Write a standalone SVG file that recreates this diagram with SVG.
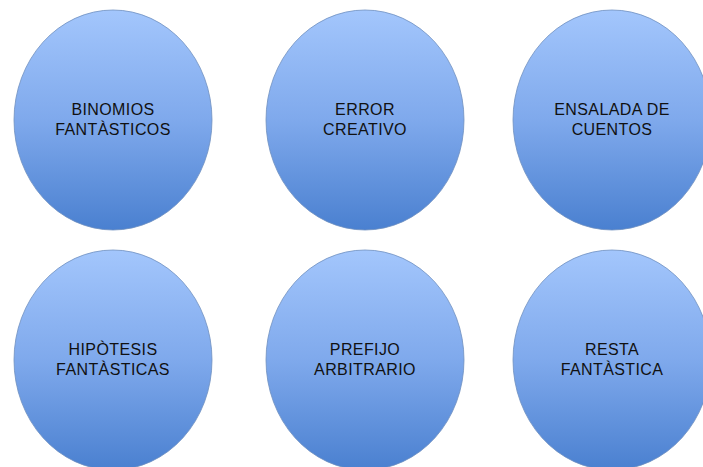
<svg xmlns="http://www.w3.org/2000/svg" width="703" height="467" viewBox="0 0 703 467">
<defs>
<linearGradient id="g" x1="0" y1="0" x2="0" y2="1">
<stop offset="0" stop-color="#a3c6fc"/>
<stop offset="0.5" stop-color="#7fa9ec"/>
<stop offset="1" stop-color="#4a80d0"/>
</linearGradient>
</defs>
<style>
.n ellipse{fill:url(#g);stroke:#6f8fbf;stroke-width:0.8}
.n text{font-family:"Liberation Sans",Arial,sans-serif;font-size:16px;fill:#111;text-anchor:middle;letter-spacing:0.4px}
</style>
<rect width="703" height="467" fill="#ffffff"/>
<g id="connectors"></g>
<g id="n1" class="n"><ellipse cx="113" cy="120" rx="99" ry="110"/><text x="113" y="115">BINOMIOS</text><text x="113" y="135">FANTÀSTICOS</text></g>
<g id="n2" class="n"><ellipse cx="365" cy="120" rx="99" ry="110"/><text x="365" y="115">ERROR</text><text x="365" y="135">CREATIVO</text></g>
<g id="n3" class="n"><ellipse cx="612" cy="120" rx="99" ry="110"/><text x="612" y="115">ENSALADA DE</text><text x="612" y="135">CUENTOS</text></g>
<g id="n4" class="n"><ellipse cx="113" cy="360" rx="99" ry="110"/><text x="113" y="355">HIPÒTESIS</text><text x="113" y="375">FANTÀSTICAS</text></g>
<g id="n5" class="n"><ellipse cx="365" cy="360" rx="99" ry="110"/><text x="365" y="355">PREFIJO</text><text x="365" y="375">ARBITRARIO</text></g>
<g id="n6" class="n"><ellipse cx="612" cy="360" rx="99" ry="110"/><text x="612" y="355">RESTA</text><text x="612" y="375">FANTÀSTICA</text></g>
</svg>
